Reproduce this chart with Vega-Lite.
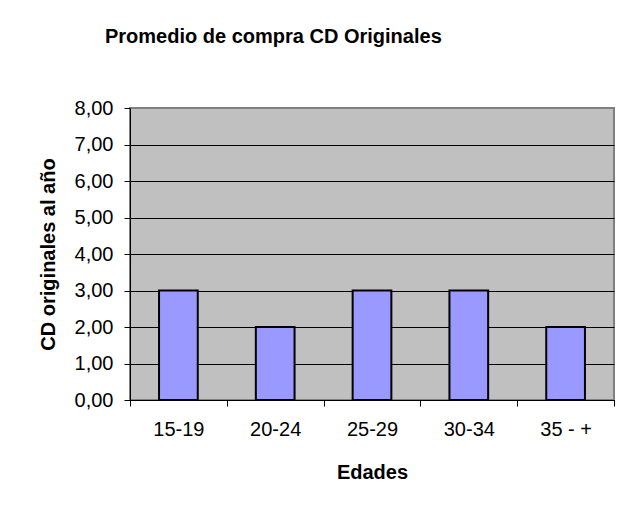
{
  "$schema": "https://vega.github.io/schema/vega-lite/v6.json",
  "width": 484,
  "height": 292,
  "autosize": "none",
  "padding": {"left": 130, "top": 108, "right": 9, "bottom": 114},
  "background": "white",
  "title": {
    "text": "Promedio de compra CD Originales",
    "anchor": "start",
    "frame": "group",
    "dx": -25,
    "font": "Liberation Sans",
    "fontSize": 20,
    "fontWeight": "bold",
    "color": "black",
    "baseline": "alphabetic",
    "offset": 35
  },
  "data": {
    "values": [
      {"edad": "15-19", "cd": 3},
      {"edad": "20-24", "cd": 2},
      {"edad": "25-29", "cd": 3},
      {"edad": "30-34", "cd": 3},
      {"edad": "35 - +", "cd": 2}
    ]
  },
  "mark": {"type": "bar", "fill": "#9999FF", "stroke": "black", "strokeWidth": 2, "width": {"band": 0.4}},
  "encoding": {
    "x": {
      "field": "edad",
      "type": "nominal",
      "sort": null,
      "scale": {"paddingInner": 0, "paddingOuter": 0},
      "axis": {
        "title": "Edades",
        "labelAngle": 0,
        "tickBand": "extent",
        "tickSize": 6,
        "tickColor": "black",
        "domainColor": "black",
        "domainWidth": 1,
        "labelFont": "Liberation Sans",
        "labelFontSize": 20,
        "labelColor": "black",
        "labelPadding": 13,
        "titleFont": "Liberation Sans",
        "titleFontSize": 20,
        "titleFontWeight": "bold",
        "titleColor": "black",
        "titlePadding": 23
      }
    },
    "y": {
      "field": "cd",
      "type": "quantitative",
      "scale": {"domain": [0, 8], "nice": false},
      "axis": {
        "title": "CD originales al año",
        "values": [0, 1, 2, 3, 4, 5, 6, 7, 8],
        "labelExpr": "replace(format(datum.value, '.2f'), '.', ',')",
        "grid": true,
        "gridColor": {"condition": {"test": "datum.value === 8", "value": "#808080"}, "value": "black"},
        "gridWidth": 1,
        "gridOpacity": 1,
        "tickSize": 6,
        "tickColor": "black",
        "domainColor": "black",
        "labelFont": "Liberation Sans",
        "labelFontSize": 20,
        "labelColor": "black",
        "labelPadding": 11,
        "titleFont": "Liberation Sans",
        "titleFontSize": 20,
        "titleFontWeight": "bold",
        "titleColor": "black",
        "titlePadding": 16
      }
    }
  },
  "config": {
    "view": {"fill": "#C0C0C0", "stroke": "#808080", "strokeWidth": 2}
  }
}
